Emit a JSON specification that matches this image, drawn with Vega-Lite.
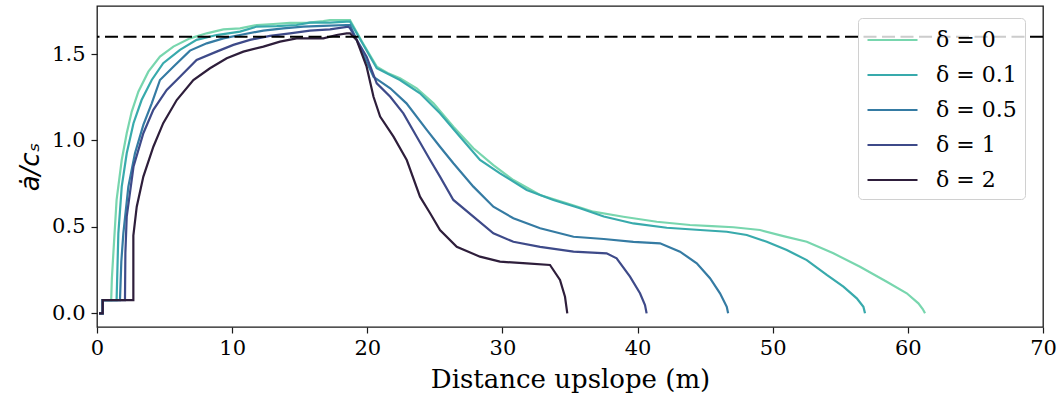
{
  "$schema": "https://vega.github.io/schema/vega-lite/v6.json",
  "width": 946,
  "height": 321,
  "autosize": {"type": "none"},
  "padding": {"left": 97, "top": 6, "right": 19, "bottom": 70},
  "background": "white",
  "config": {
    "font": "DejaVu Serif",
    "view": {"stroke": "#1a1a1a", "strokeWidth": 1.3},
    "axis": {
      "grid": false,
      "domain": false,
      "labelFont": "DejaVu Serif",
      "labelFontSize": 21,
      "labelColor": "#000",
      "labelFlush": false,
      "tickColor": "#1a1a1a",
      "tickSize": 6,
      "tickWidth": 1.2,
      "titleFont": "DejaVu Serif",
      "titleFontSize": 26,
      "titleFontWeight": "normal",
      "titleColor": "#000"
    }
  },
  "datasets": {
    "curves": [
      {"d": "δ = 0", "x": 0.15, "y": 0}, {"d": "δ = 0", "x": 0.42, "y": 0}, {"d": "δ = 0", "x": 0.42, "y": 0.077},
      {"d": "δ = 0", "x": 1.05, "y": 0.077}, {"d": "δ = 0", "x": 1.1, "y": 0.2}, {"d": "δ = 0", "x": 1.21, "y": 0.347}, {"d": "δ = 0", "x": 1.45, "y": 0.656}, {"d": "δ = 0", "x": 1.83, "y": 0.887}, {"d": "δ = 0", "x": 2.2, "y": 1.042}, {"d": "δ = 0", "x": 2.57, "y": 1.167}, {"d": "δ = 0", "x": 3.06, "y": 1.282}, {"d": "δ = 0", "x": 3.8, "y": 1.398}, {"d": "δ = 0", "x": 4.66, "y": 1.485}, {"d": "δ = 0", "x": 5.65, "y": 1.543}, {"d": "δ = 0", "x": 6.88, "y": 1.591}, {"d": "δ = 0", "x": 8.12, "y": 1.62}, {"d": "δ = 0", "x": 9.35, "y": 1.643}, {"d": "δ = 0", "x": 10.58, "y": 1.649}, {"d": "δ = 0", "x": 11.82, "y": 1.668}, {"d": "δ = 0", "x": 13.05, "y": 1.674}, {"d": "δ = 0", "x": 14.28, "y": 1.68}, {"d": "δ = 0", "x": 15.5, "y": 1.68}, {"d": "δ = 0", "x": 16.75, "y": 1.691}, {"d": "δ = 0", "x": 17.24, "y": 1.697}, {"d": "δ = 0", "x": 18.72, "y": 1.697}, {"d": "δ = 0", "x": 19.7, "y": 1.56}, {"d": "δ = 0", "x": 20.7, "y": 1.427}, {"d": "δ = 0", "x": 21.5, "y": 1.39}, {"d": "δ = 0", "x": 22.42, "y": 1.36}, {"d": "δ = 0", "x": 23.66, "y": 1.302}, {"d": "δ = 0", "x": 24.9, "y": 1.215}, {"d": "δ = 0", "x": 26.37, "y": 1.08}, {"d": "δ = 0", "x": 27.85, "y": 0.955}, {"d": "δ = 0", "x": 29.33, "y": 0.858}, {"d": "δ = 0", "x": 30.81, "y": 0.771}, {"d": "δ = 0", "x": 32.79, "y": 0.685}, {"d": "δ = 0", "x": 34.76, "y": 0.637}, {"d": "δ = 0", "x": 36.73, "y": 0.588}, {"d": "δ = 0", "x": 38.95, "y": 0.559}, {"d": "δ = 0", "x": 41.42, "y": 0.53}, {"d": "δ = 0", "x": 43.88, "y": 0.511}, {"d": "δ = 0", "x": 45.5, "y": 0.505}, {"d": "δ = 0", "x": 47.1, "y": 0.498}, {"d": "δ = 0", "x": 49.06, "y": 0.482}, {"d": "δ = 0", "x": 50.79, "y": 0.447}, {"d": "δ = 0", "x": 52.52, "y": 0.414}, {"d": "δ = 0", "x": 54.49, "y": 0.347}, {"d": "δ = 0", "x": 56.46, "y": 0.27}, {"d": "δ = 0", "x": 58.44, "y": 0.183}, {"d": "δ = 0", "x": 59.92, "y": 0.116}, {"d": "δ = 0", "x": 60.78, "y": 0.058}, {"d": "δ = 0", "x": 61.1, "y": 0.025}, {"d": "δ = 0", "x": 61.27, "y": 0.0},

      {"d": "δ = 0.1", "x": 0.15, "y": 0}, {"d": "δ = 0.1", "x": 0.42, "y": 0}, {"d": "δ = 0.1", "x": 0.42, "y": 0.077},
      {"d": "δ = 0.1", "x": 1.45, "y": 0.077}, {"d": "δ = 0.1", "x": 1.58, "y": 0.463}, {"d": "δ = 0.1", "x": 1.83, "y": 0.733}, {"d": "δ = 0.1", "x": 2.2, "y": 0.926}, {"d": "δ = 0.1", "x": 2.7, "y": 1.1}, {"d": "δ = 0.1", "x": 3.3, "y": 1.234}, {"d": "δ = 0.1", "x": 4.05, "y": 1.35}, {"d": "δ = 0.1", "x": 4.9, "y": 1.447}, {"d": "δ = 0.1", "x": 6.14, "y": 1.524}, {"d": "δ = 0.1", "x": 7.37, "y": 1.582}, {"d": "δ = 0.1", "x": 8.85, "y": 1.61}, {"d": "δ = 0.1", "x": 10.58, "y": 1.63}, {"d": "δ = 0.1", "x": 11.82, "y": 1.659}, {"d": "δ = 0.1", "x": 13.3, "y": 1.662}, {"d": "δ = 0.1", "x": 14.77, "y": 1.668}, {"d": "δ = 0.1", "x": 15.76, "y": 1.682}, {"d": "δ = 0.1", "x": 17.24, "y": 1.682}, {"d": "δ = 0.1", "x": 18.47, "y": 1.688}, {"d": "δ = 0.1", "x": 18.72, "y": 1.688}, {"d": "δ = 0.1", "x": 20.7, "y": 1.418}, {"d": "δ = 0.1", "x": 22.42, "y": 1.35}, {"d": "δ = 0.1", "x": 23.9, "y": 1.273}, {"d": "δ = 0.1", "x": 25.38, "y": 1.157}, {"d": "δ = 0.1", "x": 26.86, "y": 1.022}, {"d": "δ = 0.1", "x": 28.34, "y": 0.887}, {"d": "δ = 0.1", "x": 29.82, "y": 0.81}, {"d": "δ = 0.1", "x": 31.8, "y": 0.714}, {"d": "δ = 0.1", "x": 33.77, "y": 0.656}, {"d": "δ = 0.1", "x": 35.74, "y": 0.608}, {"d": "δ = 0.1", "x": 37.5, "y": 0.56}, {"d": "δ = 0.1", "x": 39.69, "y": 0.52}, {"d": "δ = 0.1", "x": 42.16, "y": 0.495}, {"d": "δ = 0.1", "x": 44.63, "y": 0.482}, {"d": "δ = 0.1", "x": 46.6, "y": 0.472}, {"d": "δ = 0.1", "x": 48.08, "y": 0.453}, {"d": "δ = 0.1", "x": 49.56, "y": 0.414}, {"d": "δ = 0.1", "x": 51.04, "y": 0.366}, {"d": "δ = 0.1", "x": 52.52, "y": 0.308}, {"d": "δ = 0.1", "x": 54.0, "y": 0.222}, {"d": "δ = 0.1", "x": 55.23, "y": 0.154}, {"d": "δ = 0.1", "x": 56.22, "y": 0.087}, {"d": "δ = 0.1", "x": 56.71, "y": 0.038}, {"d": "δ = 0.1", "x": 56.83, "y": 0.0},

      {"d": "δ = 0.5", "x": 0.15, "y": 0}, {"d": "δ = 0.5", "x": 0.42, "y": 0}, {"d": "δ = 0.5", "x": 0.42, "y": 0.077},
      {"d": "δ = 0.5", "x": 1.7, "y": 0.077}, {"d": "δ = 0.5", "x": 1.8, "y": 0.3}, {"d": "δ = 0.5", "x": 1.95, "y": 0.463}, {"d": "δ = 0.5", "x": 2.32, "y": 0.733}, {"d": "δ = 0.5", "x": 2.81, "y": 0.926}, {"d": "δ = 0.5", "x": 3.43, "y": 1.09}, {"d": "δ = 0.5", "x": 4.05, "y": 1.215}, {"d": "δ = 0.5", "x": 4.66, "y": 1.35}, {"d": "δ = 0.5", "x": 5.65, "y": 1.427}, {"d": "δ = 0.5", "x": 6.88, "y": 1.52}, {"d": "δ = 0.5", "x": 8.12, "y": 1.562}, {"d": "δ = 0.5", "x": 9.35, "y": 1.591}, {"d": "δ = 0.5", "x": 10.58, "y": 1.61}, {"d": "δ = 0.5", "x": 12.31, "y": 1.636}, {"d": "δ = 0.5", "x": 13.79, "y": 1.649}, {"d": "δ = 0.5", "x": 15.27, "y": 1.659}, {"d": "δ = 0.5", "x": 16.75, "y": 1.663}, {"d": "δ = 0.5", "x": 18.47, "y": 1.668}, {"d": "δ = 0.5", "x": 18.72, "y": 1.668}, {"d": "δ = 0.5", "x": 20.46, "y": 1.368}, {"d": "δ = 0.5", "x": 21.7, "y": 1.302}, {"d": "δ = 0.5", "x": 22.9, "y": 1.215}, {"d": "δ = 0.5", "x": 24.4, "y": 1.061}, {"d": "δ = 0.5", "x": 25.38, "y": 0.964}, {"d": "δ = 0.5", "x": 26.37, "y": 0.868}, {"d": "δ = 0.5", "x": 27.85, "y": 0.733}, {"d": "δ = 0.5", "x": 29.33, "y": 0.617}, {"d": "δ = 0.5", "x": 30.81, "y": 0.55}, {"d": "δ = 0.5", "x": 32.79, "y": 0.492}, {"d": "δ = 0.5", "x": 35.26, "y": 0.443}, {"d": "δ = 0.5", "x": 37.5, "y": 0.43}, {"d": "δ = 0.5", "x": 39.69, "y": 0.414}, {"d": "δ = 0.5", "x": 41.66, "y": 0.405}, {"d": "δ = 0.5", "x": 43.14, "y": 0.357}, {"d": "δ = 0.5", "x": 44.38, "y": 0.289}, {"d": "δ = 0.5", "x": 45.36, "y": 0.203}, {"d": "δ = 0.5", "x": 46.1, "y": 0.116}, {"d": "δ = 0.5", "x": 46.6, "y": 0.038}, {"d": "δ = 0.5", "x": 46.7, "y": 0.0},

      {"d": "δ = 1", "x": 0.15, "y": 0}, {"d": "δ = 1", "x": 0.42, "y": 0}, {"d": "δ = 1", "x": 0.42, "y": 0.077},
      {"d": "δ = 1", "x": 2.07, "y": 0.077}, {"d": "δ = 1", "x": 2.1, "y": 0.35}, {"d": "δ = 1", "x": 2.2, "y": 0.559}, {"d": "δ = 1", "x": 2.7, "y": 0.848}, {"d": "δ = 1", "x": 3.43, "y": 1.042}, {"d": "δ = 1", "x": 4.17, "y": 1.177}, {"d": "δ = 1", "x": 5.16, "y": 1.292}, {"d": "δ = 1", "x": 6.14, "y": 1.369}, {"d": "δ = 1", "x": 7.37, "y": 1.466}, {"d": "δ = 1", "x": 8.85, "y": 1.514}, {"d": "δ = 1", "x": 10.09, "y": 1.553}, {"d": "δ = 1", "x": 11.32, "y": 1.582}, {"d": "δ = 1", "x": 12.8, "y": 1.605}, {"d": "δ = 1", "x": 14.28, "y": 1.62}, {"d": "δ = 1", "x": 15.76, "y": 1.636}, {"d": "δ = 1", "x": 17.24, "y": 1.643}, {"d": "δ = 1", "x": 18.6, "y": 1.659}, {"d": "δ = 1", "x": 18.72, "y": 1.649}, {"d": "δ = 1", "x": 19.95, "y": 1.485}, {"d": "δ = 1", "x": 20.7, "y": 1.331}, {"d": "δ = 1", "x": 21.7, "y": 1.253}, {"d": "δ = 1", "x": 22.67, "y": 1.157}, {"d": "δ = 1", "x": 23.66, "y": 1.022}, {"d": "δ = 1", "x": 24.65, "y": 0.887}, {"d": "δ = 1", "x": 25.38, "y": 0.791}, {"d": "δ = 1", "x": 26.37, "y": 0.656}, {"d": "δ = 1", "x": 27.85, "y": 0.559}, {"d": "δ = 1", "x": 29.33, "y": 0.463}, {"d": "δ = 1", "x": 30.81, "y": 0.414}, {"d": "δ = 1", "x": 32.79, "y": 0.385}, {"d": "δ = 1", "x": 35.26, "y": 0.357}, {"d": "δ = 1", "x": 37.71, "y": 0.347}, {"d": "δ = 1", "x": 38.45, "y": 0.318}, {"d": "δ = 1", "x": 39.44, "y": 0.212}, {"d": "δ = 1", "x": 40.18, "y": 0.116}, {"d": "δ = 1", "x": 40.55, "y": 0.048}, {"d": "δ = 1", "x": 40.67, "y": 0.0},

      {"d": "δ = 2", "x": 0.15, "y": 0}, {"d": "δ = 2", "x": 0.42, "y": 0}, {"d": "δ = 2", "x": 0.42, "y": 0.077},
      {"d": "δ = 2", "x": 2.69, "y": 0.077}, {"d": "δ = 2", "x": 2.69, "y": 0.45}, {"d": "δ = 2", "x": 2.94, "y": 0.617}, {"d": "δ = 2", "x": 3.43, "y": 0.791}, {"d": "δ = 2", "x": 4.17, "y": 0.964}, {"d": "δ = 2", "x": 4.9, "y": 1.1}, {"d": "δ = 2", "x": 5.9, "y": 1.234}, {"d": "δ = 2", "x": 7.13, "y": 1.35}, {"d": "δ = 2", "x": 8.36, "y": 1.418}, {"d": "δ = 2", "x": 9.6, "y": 1.476}, {"d": "δ = 2", "x": 10.83, "y": 1.514}, {"d": "δ = 2", "x": 12.31, "y": 1.543}, {"d": "δ = 2", "x": 13.54, "y": 1.572}, {"d": "δ = 2", "x": 14.77, "y": 1.591}, {"d": "δ = 2", "x": 16.75, "y": 1.591}, {"d": "δ = 2", "x": 17.73, "y": 1.61}, {"d": "δ = 2", "x": 18.47, "y": 1.62}, {"d": "δ = 2", "x": 18.72, "y": 1.62}, {"d": "δ = 2", "x": 19.21, "y": 1.582}, {"d": "δ = 2", "x": 19.95, "y": 1.427}, {"d": "δ = 2", "x": 20.46, "y": 1.253}, {"d": "δ = 2", "x": 20.95, "y": 1.138}, {"d": "δ = 2", "x": 21.94, "y": 1.022}, {"d": "δ = 2", "x": 22.92, "y": 0.887}, {"d": "δ = 2", "x": 23.9, "y": 0.675}, {"d": "δ = 2", "x": 24.65, "y": 0.579}, {"d": "δ = 2", "x": 25.38, "y": 0.482}, {"d": "δ = 2", "x": 26.62, "y": 0.385}, {"d": "δ = 2", "x": 28.34, "y": 0.328}, {"d": "δ = 2", "x": 29.82, "y": 0.299}, {"d": "δ = 2", "x": 31.8, "y": 0.289}, {"d": "δ = 2", "x": 33.52, "y": 0.28}, {"d": "δ = 2", "x": 34.26, "y": 0.193}, {"d": "δ = 2", "x": 34.63, "y": 0.096}, {"d": "δ = 2", "x": 34.8, "y": 0.0}
    ],
    "threshold": [{"y": 1.6}]
  },
  "layer": [
    {
      "data": {"name": "curves"},
      "mark": {"type": "line", "strokeWidth": 2.2, "clip": true},
      "encoding": {
        "x": {
          "field": "x", "type": "quantitative",
          "scale": {"domain": [0, 70], "nice": false, "zero": false},
          "axis": {"values": [0, 10, 20, 30, 40, 50, 60, 70], "title": "Distance upslope (m)", "labelPadding": 4, "titlePadding": 8}
        },
        "y": {
          "field": "y", "type": "quantitative",
          "scale": {"domain": [-0.079, 1.778], "nice": false, "zero": false},
          "axis": {"values": [0, 0.5, 1.0, 1.5], "format": ".1f", "title": "ȧ/cₛ", "titleFont": "DejaVu Sans", "titleFontStyle": "italic", "labelPadding": 6, "titlePadding": 8}
        },
        "color": {
          "field": "d", "type": "nominal",
          "scale": {
            "domain": ["δ = 0", "δ = 0.1", "δ = 0.5", "δ = 1", "δ = 2"],
            "range": ["#78d6ae", "#38aaac", "#357ba3", "#3e4a89", "#2e1e3b"]
          },
          "legend": {
            "title": null,
            "orient": "none",
            "legendX": 761,
            "legendY": 12,
            "symbolType": "M-1,0H3",
            "symbolSize": 625,
            "symbolStrokeWidth": 2.2,
            "labelFont": "DejaVu Serif",
            "labelFontSize": 22,
            "labelColor": "#000",
            "labelOffset": 42,
            "padding": 8,
            "rowPadding": 10,
            "fillColor": "rgba(255,255,255,0.8)",
            "strokeColor": "#d0d0d0",
            "cornerRadius": 4
          }
        },
        "order": {"value": null}
      }
    },
    {
      "data": {"name": "threshold"},
      "mark": {"type": "rule", "color": "#000", "strokeWidth": 2.2, "strokeDash": [13, 5.5]},
      "encoding": {"y": {"field": "y", "type": "quantitative"}}
    }
  ]
}
